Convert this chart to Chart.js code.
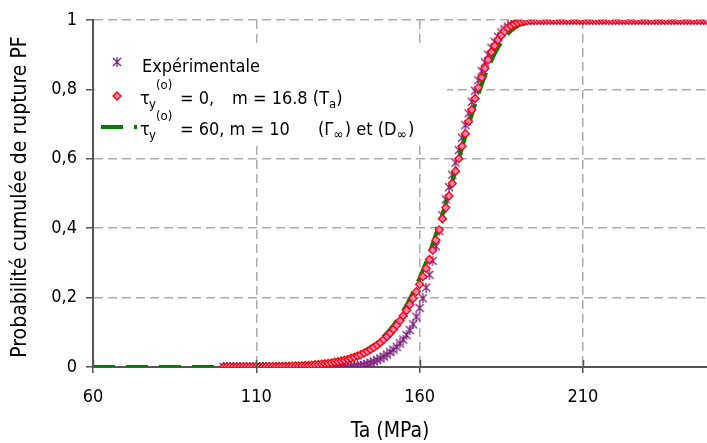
<!DOCTYPE html>
<html>
<head>
<meta charset="utf-8">
<script src="https://cdn.jsdelivr.net/npm/chart.js@4.4.1/dist/chart.umd.min.js"></script>
<style>
  html, body { margin: 0; padding: 0; background: #fff; }
  #wrap { width: 707px; height: 443px; overflow: hidden; }
</style>
</head>
<body>
<div id="wrap"><canvas id="chart" width="707" height="443"></canvas></div>
<script>
/* =========================
   DONNEES
========================= */
// contrainte Ta (MPa) des points experimentaux et du modele tau0 = 0
const temps = [
  100, 101, 102, 103, 104, 105, 106, 107, 108, 109,
  110, 111, 112, 113, 114, 115, 116, 117, 118, 119,
  120, 121, 122, 123, 124, 125, 126, 127, 128, 129,
  130, 131, 132, 133, 134, 135, 136, 137, 138, 139,
  140, 141, 142, 143, 144, 145, 146, 147, 148, 149,
  150, 151, 152, 153, 154, 155, 156, 157, 158, 159,
  160, 161, 162, 163, 164, 165, 166, 167, 168, 169,
  170, 171, 172, 173, 174, 175, 176, 177, 178, 179,
  180, 181, 182, 183, 184, 185, 186, 187, 188, 189,
  190, 191, 192, 193, 194, 195, 196, 197, 198, 199,
  200, 201, 202, 203, 204, 205, 206, 207, 208, 209,
  210, 211, 212, 213, 214, 215, 216, 217, 218, 219,
  220, 221, 222, 223, 224, 225, 226, 227, 228, 229,
  230, 231, 232, 233, 234, 235, 236, 237, 238, 239,
  240, 241, 242, 243, 244, 245, 246, 247, 248
];

// Expérimentale
const probaExp = [
  0, 0, 0, 0, 0, 0, 0, 0, 0, 0,
  0, 0, 0, 0, 0, 0, 0, 0, 0, 0,
  0.0001, 0.0001, 0.0001, 0.0001, 0.0001, 0.0001, 0.0001, 0.0001, 0.0001, 0.0001,
  0.0002, 0.0002, 0.0003, 0.0004, 0.0005, 0.0006, 0.0008, 0.0010, 0.0013, 0.0016,
  0.002, 0.003, 0.004, 0.006, 0.009, 0.012, 0.016, 0.020, 0.025, 0.030,
  0.036, 0.043, 0.050, 0.058, 0.068, 0.079, 0.092, 0.106, 0.123, 0.145,
  0.170, 0.198, 0.229, 0.266, 0.306, 0.348, 0.392, 0.437, 0.483, 0.518,
  0.554, 0.589, 0.625, 0.661, 0.697, 0.731, 0.764, 0.796, 0.826, 0.853,
  0.878, 0.900, 0.920, 0.937, 0.952, 0.964, 0.974, 0.981, 0.987, 0.991,
  0.994, 0.996, 0.998, 0.9988, 0.9993, 0.9996, 0.9998, 0.9999, 1, 1,
  1, 1, 1, 1, 1, 1, 1, 1, 1, 1,
  1, 1, 1, 1, 1, 1, 1, 1, 1, 1,
  1, 1, 1, 1, 1, 1, 1, 1, 1, 1,
  1, 1, 1, 1, 1, 1, 1, 1, 1, 1,
  1, 1, 1, 1, 1, 1, 1, 1, 1
];

// tau_y(o) = 0, m = 16.8 (Ta)
const probaTa = [
  0.0001, 0.0001, 0.0001, 0.0002, 0.0002, 0.0002, 0.0003, 0.0003, 0.0004, 0.0004,
  0.0005, 0.0006, 0.0007, 0.0008, 0.0009, 0.0011, 0.0012, 0.0014, 0.0017, 0.0019,
  0.0022, 0.0025, 0.0029, 0.0033, 0.0038, 0.0043, 0.0049, 0.0056, 0.0064, 0.0073,
  0.0083, 0.0094, 0.0106, 0.0120, 0.0137, 0.0155, 0.0174, 0.0197, 0.0222, 0.0251,
  0.0283, 0.0318, 0.0357, 0.0402, 0.0451, 0.0506, 0.0566, 0.0633, 0.0707, 0.0789,
  0.0879, 0.0978, 0.1086, 0.1205, 0.1335, 0.1477, 0.1631, 0.1798, 0.1978, 0.2173,
  0.2381, 0.2605, 0.2843, 0.3098, 0.3366, 0.3656, 0.3953, 0.4271, 0.4594, 0.4929,
  0.5290, 0.5644, 0.6003, 0.6361, 0.6721, 0.7074, 0.7413, 0.7739, 0.8052, 0.8342,
  0.8609, 0.8852, 0.9070, 0.9260, 0.9423, 0.9560, 0.9673, 0.9763, 0.9833, 0.9886,
  0.9924, 0.9952, 0.9970, 0.9983, 0.9990, 0.9995, 0.9997, 0.9999, 0.9999, 1,
  1, 1, 1, 1, 1, 1, 1, 1, 1, 1,
  1, 1, 1, 1, 1, 1, 1, 1, 1, 1,
  1, 1, 1, 1, 1, 1, 1, 1, 1, 1,
  1, 1, 1, 1, 1, 1, 1, 1, 1, 1,
  1, 1, 1, 1, 1, 1, 1, 1, 1
];

// tau_y(o) = 60, m = 10 (Gamma inf et D inf)
const tempsGamma = [
  60, 70, 80, 90, 100, 105, 110, 115, 120, 125,
  130, 132, 134, 136, 138,
  140, 141, 142, 143, 144, 145, 146, 147, 148, 149,
  150, 151, 152, 153, 154, 155, 156, 157, 158, 159,
  160, 161, 162, 163, 164, 165, 166, 167, 168, 169,
  170, 171, 172, 173, 174, 175, 176, 177, 178, 179,
  180, 181, 182, 183, 184, 185, 186, 187, 188, 189,
  190, 191, 192, 193, 194, 195, 196, 197, 198, 199,
  200, 210, 220, 230, 240, 248
];
const probaGamma = [
  0, 0, 0, 0, 0, 0.0001, 0.0003, 0.0008, 0.0018, 0.0040,
  0.0083, 0.0109, 0.0144, 0.0187, 0.0243,
  0.0311, 0.0352, 0.0397, 0.0448, 0.0505, 0.0564, 0.0631, 0.0707, 0.0791, 0.0884,
  0.0976, 0.1085, 0.1203, 0.1333, 0.1476, 0.1622, 0.1784, 0.1960, 0.2150, 0.2355,
  0.2555, 0.2781, 0.3021, 0.3277, 0.3547, 0.3822, 0.4101, 0.4401, 0.4713, 0.5033,
  0.5351, 0.5667, 0.5996, 0.6326, 0.6655, 0.6970, 0.7271, 0.7573, 0.7863, 0.8139,
  0.8391, 0.8622, 0.8838, 0.9033, 0.9206, 0.9356, 0.9487, 0.9598, 0.9691, 0.9767,
  0.9827, 0.9875, 0.9911, 0.9938, 0.9959, 0.9973, 0.9983, 0.9989, 0.9993, 0.9996,
  0.9998, 1, 1, 1, 1, 1
];

const xTicks = [60, 110, 160, 210];
const yTicks = [0, 0.2, 0.4, 0.6, 0.8, 1];

/* =========================
   STYLE
========================= */
const FONT = '"DejaVu Sans Condensed", "DejaVu Sans", sans-serif';
const VIOLET = "#7a1c7a";
const ROUGE = "#ff0000";
const ROSE = "#ff80bc";
const VERT = "#008000";
const AXE = "#555555";

// marqueur "étoile" façon Excel : X + barre verticale
function makeCroix() {
  const c = document.createElement("canvas");
  c.width = 10; c.height = 10;
  const g = c.getContext("2d");
  g.strokeStyle = VIOLET;
  g.lineWidth = 1.2;
  g.beginPath();
  g.moveTo(1, 1); g.lineTo(9, 9);
  g.moveTo(9, 1); g.lineTo(1, 9);
  g.moveTo(5, 0); g.lineTo(5, 10);
  g.stroke();
  return c;
}
const croix = makeCroix();

function pts(xs, ys) {
  return xs.map((x, i) => ({ x: x, y: ys[i] }));
}

/* =========================
   LEGENDE + TITRES
========================= */
function txt(ctx, s, x, y, size) {
  ctx.font = size + "px " + FONT;
  ctx.fillText(s, x, y);
  return x + ctx.measureText(s).width;
}

const decor = {
  id: "decor",
  afterDraw(chart) {
    const ctx = chart.ctx;
    const xs = chart.scales.x;
    ctx.save();

    // petites graduations vers l'intérieur sur l'axe X
    ctx.strokeStyle = AXE;
    ctx.lineWidth = 1.5;
    xTicks.forEach(v => {
      const px = Math.round(xs.getPixelForValue(v)) + 0.5;
      ctx.beginPath();
      ctx.moveTo(px, chart.chartArea.bottom - 7);
      ctx.lineTo(px, chart.chartArea.bottom);
      ctx.stroke();
    });

    // fond blanc de la légende
    ctx.fillStyle = "#fff";
    ctx.fillRect(95, 44, 352, 99);

    ctx.fillStyle = "#000";
    ctx.textBaseline = "alphabetic";
    ctx.textAlign = "left";

    // ligne 1
    ctx.drawImage(croix, 117 - 5, 62 - 5);
    txt(ctx, "Expérimentale", 142, 72, 18);

    // ligne 2
    ctx.beginPath();
    ctx.moveTo(117, 92); ctx.lineTo(121, 96); ctx.lineTo(117, 100); ctx.lineTo(113, 96);
    ctx.closePath();
    ctx.fillStyle = ROSE; ctx.fill();
    ctx.strokeStyle = ROUGE; ctx.lineWidth = 1.3; ctx.stroke();
    ctx.fillStyle = "#000";
    txt(ctx, "τ", 140, 104, 18);
    txt(ctx, "y", 149, 108, 13);
    txt(ctx, "(o)", 156, 89, 13);
    txt(ctx, "= 0,", 180, 104, 18);
    let x = txt(ctx, "m = 16.8 (T", 232, 104, 18);
    x = txt(ctx, "a", x, 108, 13);
    txt(ctx, ")", x, 104, 18);

    // ligne 3
    ctx.strokeStyle = VERT;
    ctx.lineWidth = 4;
    ctx.setLineDash([22, 11]);
    ctx.beginPath();
    ctx.moveTo(101, 127); ctx.lineTo(137, 127);
    ctx.stroke();
    ctx.setLineDash([]);
    txt(ctx, "τ", 140, 135, 18);
    txt(ctx, "y", 149, 139, 13);
    txt(ctx, "(o)", 156, 120, 13);
    txt(ctx, "= 60, m = 10", 180, 135, 18);
    x = txt(ctx, "(Γ", 318, 135, 18);
    x = txt(ctx, "∞", x, 139, 14);
    x = txt(ctx, ") et (D", x + 1, 135, 18);
    x = txt(ctx, "∞", x, 139, 14);
    txt(ctx, ")", x + 1, 135, 18);

    // titres des axes
    ctx.textAlign = "center";
    ctx.textBaseline = "middle";
    ctx.font = "21px " + FONT;
    ctx.fillText("Ta (MPa)", 390, 432);
    ctx.translate(21, 197);
    ctx.rotate(-Math.PI / 2);
    ctx.fillText("Probabilité cumulée de rupture PF", 0, 0);
    ctx.restore();
  }
};

/* =========================
   CHART
========================= */
new Chart(document.getElementById("chart"), {
  type: "scatter",
  data: {
    datasets: [
      {
        label: "τy(o) = 0, m = 16.8 (Ta)",
        data: pts(temps, probaTa),
        pointStyle: "rectRot",
        pointRadius: 4,
        pointBorderWidth: 1.3,
        borderColor: ROUGE,
        backgroundColor: ROSE,
        showLine: false
      },
      {
        label: "τy(o) = 60, m = 10 (Γ∞) et (D∞)",
        data: pts(tempsGamma, probaGamma),
        showLine: true,
        borderColor: VERT,
        borderWidth: 4,
        borderDash: [22, 11],
        pointRadius: 0,
        tension: 0
      },
      {
        label: "Expérimentale",
        data: pts(temps, probaExp),
        pointStyle: croix,
        pointRadius: 5,
        borderColor: VIOLET,
        backgroundColor: VIOLET,
        showLine: false
      }
    ]
  },
  options: {
    responsive: false,
    animation: false,
    devicePixelRatio: 1,
    layout: { autoPadding: false, padding: { top: 20, right: 0, left: 0, bottom: 0 } },
    plugins: {
      legend: { display: false },
      tooltip: { enabled: false }
    },
    scales: {
      x: {
        type: "linear",
        min: 60,
        max: 248,
        afterBuildTicks: s => { s.ticks = xTicks.map(v => ({ value: v })); },
        afterFit: s => { s.height = 76; s.paddingLeft = 0; s.paddingRight = 0; },
        grid: {
          color: "#acacac",
          lineWidth: 1.5,
          tickLength: 6,
          tickColor: AXE,
          tickWidth: 1.5
        },
        border: { color: AXE, width: 2, dash: [9, 5] },
        ticks: {
          padding: 14,
          color: "#000",
          maxRotation: 0,
          font: { family: FONT, size: 18 }
        }
      },
      y: {
        type: "linear",
        min: 0,
        max: 1,
        afterBuildTicks: s => { s.ticks = yTicks.map(v => ({ value: v })); },
        afterFit: s => { s.width = 93; s.paddingTop = 0; s.paddingBottom = 0; },
        grid: {
          color: "#acacac",
          lineWidth: 1.5,
          tickLength: 7,
          tickColor: AXE,
          tickWidth: 1.5
        },
        border: { color: AXE, width: 2, dash: [9, 5] },
        ticks: {
          padding: 9,
          color: "#000",
          font: { family: FONT, size: 18 },
          callback: v => String(Math.round(v * 10) / 10).replace(".", ",")
        }
      }
    }
  },
  plugins: [decor]
});
</script>
</body>
</html>
